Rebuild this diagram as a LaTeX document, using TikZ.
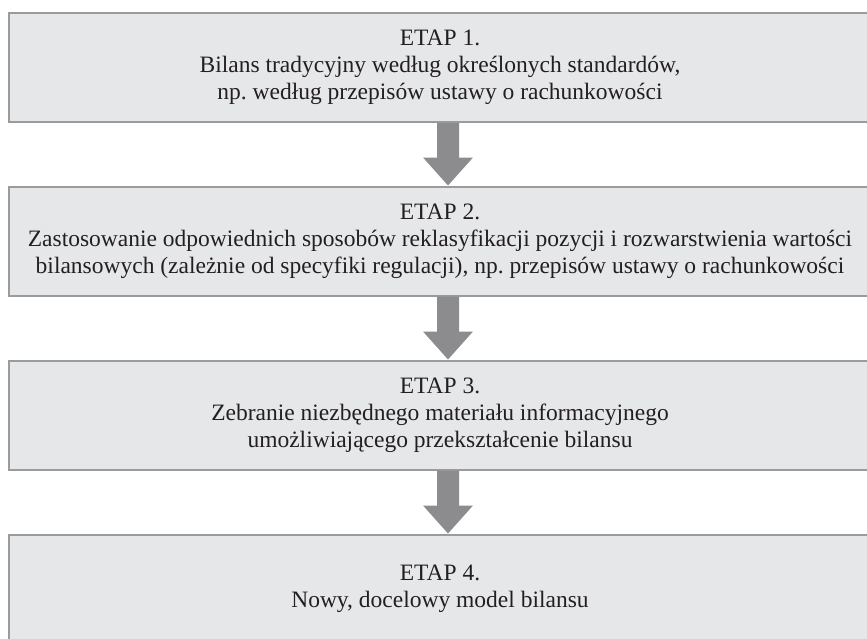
\documentclass[tikz,border=0pt]{standalone}
\usepackage{fontspec}
\setmainfont{Liberation Serif}
\usetikzlibrary{calc}
\frenchspacing
\definecolor{boxfill}{HTML}{E6E7E9}
\definecolor{boxline}{HTML}{9A9B9D}
\definecolor{arrowgray}{HTML}{8C8C8E}
\definecolor{ink}{HTML}{231F20}
\begin{document}
\begin{tikzpicture}[x=1pt,y=-1pt,
  stage/.style={draw=boxline, line width=2pt, fill=boxfill,
    minimum width=862pt, minimum height=109pt, inner sep=0pt,
    align=center, text=ink, font=\fontsize{23.5}{27}\selectfont},
  flow/.style={fill=arrowgray}]
\useasboundingbox (0,0) rectangle (867,638);
\clip (0,0) rectangle (867,638);

% the four stages
\node[stage] (e1) at (440,67.5) {ETAP 1.\\Bilans tradycyjny według określonych standardów,\\np. według przepisów ustawy o rachunkowości};
\node[stage] (e2) at (440,241) {ETAP 2.\\Zastosowanie odpowiednich sposobów reklasyfikacji pozycji i rozwarstwienia wartości\\bilansowych (zależnie od specyfiki regulacji), np. przepisów ustawy o rachunkowości};
\node[stage] (e3) at (440,415) {ETAP 3.\\Zebranie niezbędnego materiału informacyjnego\\umożliwiającego przekształcenie bilansu};
\node[stage] (e4) at (440,589) {ETAP 4.\\Nowy, docelowy model bilansu};

% block arrows between consecutive stages
\foreach \a/\b in {e1/e2, e2/e3, e3/e4}{
  \fill[flow] ($(\a.south)+(-3,0)$) -- ($(\a.south)+(19,0)$)
    -- ($(\b.north)+(19,-28)$) -- ($(\b.north)+(33,-28)$)
    -- ($(\b.north)+(8,0)$)
    -- ($(\b.north)+(-17,-28)$) -- ($(\b.north)+(-3,-28)$) -- cycle;
}
\end{tikzpicture}
\end{document}
